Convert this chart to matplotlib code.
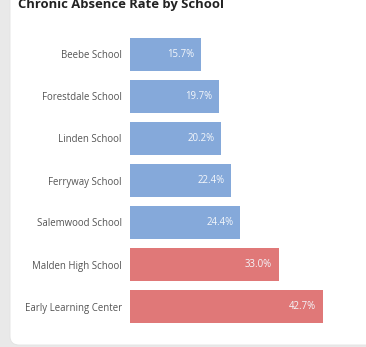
import matplotlib
matplotlib.use("Agg")
import matplotlib.pyplot as plt
from matplotlib.patches import FancyBboxPatch

schools = ["Beebe School", "Forestdale School", "Linden School", "Ferryway School",
           "Salemwood School", "Malden High School", "Early Learning Center"]
rates = [15.7, 19.7, 20.2, 22.4, 24.4, 33.0, 42.7]
threshold = 30.0
title = "Chronic Absence Rate by School"

W, H = 366, 347
fig = plt.figure(figsize=(W / 100, H / 100), dpi=100)
fig.patch.set_facecolor("#e9e9e9")

card = FancyBboxPatch((10 / W, 2 / H), 400 / W, 400 / H,
                      boxstyle="round,pad=0,rounding_size=0.025",
                      transform=fig.transFigure, facecolor="white",
                      edgecolor="#e2e2e2", linewidth=0.6, zorder=-5)
fig.patches.append(card)

fig.text(18 / W, 1 - 8 / H, title, fontsize=9.4, fontweight="bold",
         family="Open Sans", color="#222222", ha="left", va="baseline")

x0, x1 = 130, 350
top, bot = 33.5, 327.5
ax = fig.add_axes([x0 / W, (H - bot) / H, (x1 - x0) / W, (bot - top) / H])
ax.set_zorder(2)
ax.set_facecolor("none")
ypos = list(range(len(schools)))
colors = ["#e07878" if r > threshold else "#85a9da" for r in rates]
ax.barh(ypos, rates, height=0.77, color=colors)
ax.set_xlim(0, (x1 - x0) / 4.52)
ax.set_ylim(len(schools) - 0.5, -0.5)
for s in ax.spines.values():
    s.set_visible(False)
ax.set_xticks([])
ax.set_yticks(ypos)
ax.set_yticklabels(schools, family="Open Sans", fontsize=6.9, color="#555555")
ax.tick_params(axis="y", length=0, pad=6)
for y, r in zip(ypos, rates):
    ax.annotate(f"{r:.1f}%", (r, y), xytext=(-5, 0), textcoords="offset points",
                ha="right", va="center", color="#f4f7fb", fontsize=6.9,
                family="Open Sans")

fig.savefig("out.png", dpi=100, facecolor=fig.get_facecolor())
